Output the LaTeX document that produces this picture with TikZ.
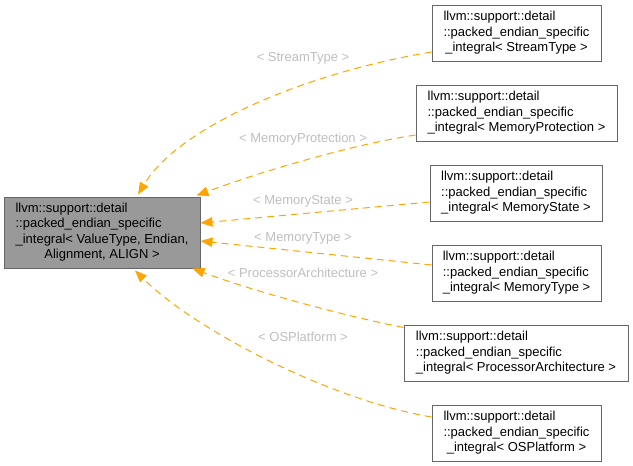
\documentclass[tikz,border=0pt]{standalone}
\usepackage{fontspec}
\setmainfont{Liberation Sans}
\usetikzlibrary{arrows.meta}
\definecolor{edgeor}{HTML}{FFA500}
\definecolor{bordergray}{HTML}{666666}
\definecolor{fillgray}{HTML}{999999}
\definecolor{lblgray}{HTML}{BEBEBE}
\tikzset{
  cls/.style={draw=bordergray, line width=1pt, fill=white, inner sep=0pt, font=\fontsize{13}{15.3}\selectfont},
  basecls/.style={cls, fill=fillgray},
  inh/.style={draw=edgeor, line width=1pt, dash pattern=on 7pt off 5pt, -{Triangle[length=12pt,width=9.5pt]}},
  lbl/.style={text=lblgray, font=\fontsize{13}{15.3}\selectfont, inner sep=0pt},
}
\newcommand{\cname}[1]{\begin{tabular}{@{}l@{}}llvm::support::detail\\::packed\_endian\_specific\\\multicolumn{1}{@{}c@{}}{\_integral< #1 >}\end{tabular}}
\begin{document}
\begin{tikzpicture}[x=1pt,y=-1pt]
\useasboundingbox (0,0) rectangle (633,466);
\node[basecls, minimum width=196pt, minimum height=71pt] (L) at (102,232.5)
  {\begin{tabular}{@{}l@{}}llvm::support::detail\\::packed\_endian\_specific\\\_integral< ValueType, Endian,\\\multicolumn{1}{@{}c@{}}{Alignment, ALIGN >}\end{tabular}};
\node[cls, minimum width=169pt, minimum height=56pt] (st) at (516.5,33) {\cname{StreamType}};
\node[cls, minimum width=201pt, minimum height=56pt] (mp) at (516.5,113) {\cname{MemoryProtection}};
\node[cls, minimum width=172pt, minimum height=56pt] (ms) at (516,193) {\cname{MemoryState}};
\node[cls, minimum width=169pt, minimum height=56pt] (mt) at (516.5,273) {\cname{MemoryType}};
\node[cls, minimum width=224pt, minimum height=56pt] (pa) at (516,353) {\cname{ProcessorArchitecture}};
\node[cls, minimum width=169pt, minimum height=56pt] (os) at (516.5,433) {\cname{OSPlatform}};

\draw[inh] ([yshift=-19pt]st.west) .. controls (310,72) and (180,125) .. ([xshift=36pt,yshift=2pt]L.north);
\draw[inh] ([yshift=-22pt]mp.west) .. controls (350,145) and (260,172) .. ([xshift=-4pt,yshift=1pt]L.north east);
\draw[inh] ([yshift=-9pt]ms.west) -- ([yshift=9.5pt]L.east);
\draw[inh] ([yshift=8pt]mt.west) -- ([yshift=-8.5pt]L.east);
\draw[inh] ([yshift=-3pt]pa.north west) .. controls (340,315) and (250,290) .. ([xshift=-8pt]L.south east);
\draw[inh] ([yshift=16pt]os.west) .. controls (330,400) and (195,330) .. ([xshift=33pt,yshift=-2pt]L.south);

\node[lbl] (l1) at (303,58) {< StreamType >};
\node[lbl] (l2) at (303,139) {< MemoryProtection >};
\node[lbl] (l3) at (303,201) {< MemoryState >};
\node[lbl] (l4) at (303,238) {< MemoryType >};
\node[lbl] (l5) at (303,273) {< ProcessorArchitecture >};
\node[lbl] (l6) at (303,337) {< OSPlatform >};
\end{tikzpicture}
\end{document}
